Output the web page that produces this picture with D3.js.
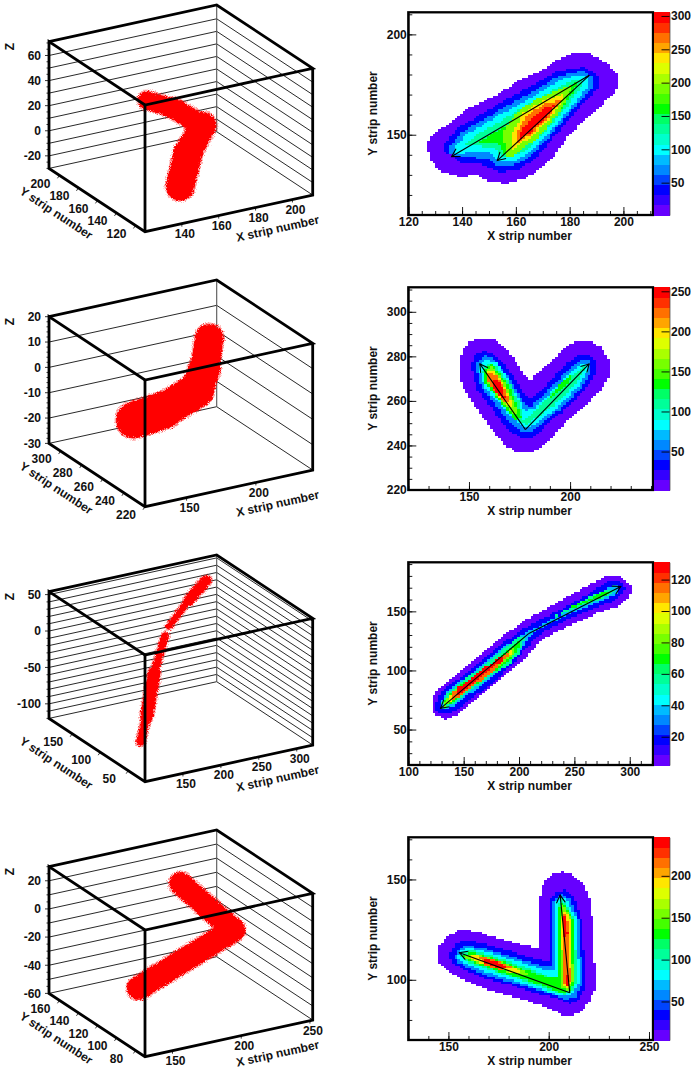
<!DOCTYPE html>
<html>
<head>
<meta charset="utf-8">
<script src="https://cdnjs.cloudflare.com/ajax/libs/d3/7.8.5/d3.min.js"></script>
<style>
body { margin: 0; background: #fff; }
text { font-family: "Liberation Sans", sans-serif; font-weight: bold; font-size: 12px; fill: #111; }
</style>
</head>
<body>
<div id="chart"></div>
<script>
// ranges, one entry per event
var xRanges = [[120, 211], [120, 241], [100, 321], [130, 252]]
var yRanges = [[110, 211], [220, 311], [20, 191.5], [70, 171]]
var zRanges = [[-30, 71], [-30, 20], [-120, 54], [-60, 30]]
var colorRanges = [[1.5, 305.5], [2, 255], [2, 131], [4, 246]]

// tick labels
var xMajor = [20, 50, 50, 50], xMinor = [5, 10, 10, 10]
var yMajor = [50, 20, 50, 50], yMinor = [10, 5, 10, 10]
var zMinor = [5, 2, 10, 5]
var colorTicks = [[50, 100, 150, 200, 250, 300], [50, 100, 150, 200, 250], [20, 40, 60, 80, 100, 120], [50, 100, 150, 200]]
var x3dTicks = [[140, 160, 180, 200], [150, 200], [150, 200, 250, 300], [150, 200, 250]]
var y3dTicks = [[120, 140, 160, 180, 200], [220, 240, 260, 280, 300], [50, 100, 150], [80, 100, 120, 140, 160]]
var z3dTicks = [[-20, 0, 20, 40, 60], [-30, -20, -10, 0, 10, 20], [-100, -50, 0, 50], [-60, -40, -20, 0, 20]]

var palette = ["#6600ff", "#3300ff", "#0000ff", "#0044ff", "#0088ff", "#00bbff", "#00ffff", "#00ffcc", "#00ff99", "#00ff66",
    "#00ff00", "#44ff00", "#77ff00", "#aaff00", "#ddff00", "#ffe600", "#ffa500", "#ff7000", "#ff3000", "#ff0000"]

// reconstructed tracks in the strip plane: [from, to] pairs of x,y
var arrows = [
    [[[187.3, 179.6], [136.1, 139.1]], [[187.3, 179.6], [153.1, 137.1]]],
    [[[177.9, 247.1], [155.4, 276.6]], [[177.9, 247.1], [209.4, 276.6]]],
    [[[208.4, 131], [129.2, 67.9]], [[208.4, 131], [291.9, 171]]],
    [[[210.5, 93.5], [155.5, 113.5]], [[210.5, 93.5], [205.7, 142.2]]]
]

// hit clouds in 3d: x, y, z stations along each track
var clouds = [
    [[[136.1, 139.1, 55], [160, 158, 31.6], [187.3, 179.6, -1.6]], [[187.3, 179.6, -1.6], [168, 158, -7], [153.1, 137.1, -18]]],
    [[[155.4, 276.6, -15.6], [166, 262, -8.9], [177.9, 247.1, 1.5]], [[177.9, 247.1, 1.5], [195, 262, 4], [209.4, 276.6, 10.2]]],
    [[[129.2, 67.9, -96], [150, 85, -75], [180, 112, -36], [208.4, 131, -1]], [[215, 133, 10], [255, 152, 27], [291.9, 171, 35.8]]],
    [[[155.5, 113.5, -36], [210.5, 93.5, 2.4]], [[210.5, 93.5, 2.4], [205.7, 142.2, 14.8]]]
]
var cloudWidths = [
    [[20, 22], [28, 30]],
    [[38, 36], [33, 30]],
    [[10, 14, 9], [8, 12]],
    [[25], [24]]
]

// charge contours: [value, ring of x,y], lowest first
var contours0 = [
    [5, [[127.1,145.5],[129.3,150.5],[134.3,154.7],[138,158.9],[142.9,163.5],[151.6,168.9],[161.5,177.3],[168.9,181.4],[176.4,188.1],[180.7,190.3],[187.5,190.3],[193.7,185.6],[197.7,179.8],[197.7,173.1],[192.5,165.6],[187.5,159.7],[180.1,150.5],[172.7,137.1],[164,128.8],[156.6,125.8],[149.7,127.1],[145.4,130.1],[139.2,129.1],[131.8,132.1],[128.1,138]]],
    [40, [[132.4,143.8],[138,153],[151.6,163.9],[162.8,172.2],[175.1,181.4],[185.1,183.9],[190.6,179.8],[190.6,173.1],[183.8,163.9],[175.1,150.5],[167.7,138.8],[161.5,132.9],[154.1,131.3],[146.6,135.5],[140.4,135.5],[134.3,141]]],
    [70, [[134.9,143],[139.8,151.3],[152.8,161.4],[164,169.7],[175.1,178.9],[184.4,181.9],[188.5,178.9],[188.5,173.6],[182,163.9],[173.3,150.5],[165.8,139.6],[160.3,135.5],[154.1,134.3],[148.5,138.5],[140.4,138.8],[136.1,139.6]]],
    [100, [[136.7,143],[141.1,149.7],[153.5,159.7],[165.2,168.1],[176.4,177.3],[183.8,180.3],[186.9,178.6],[186.9,173.9],[180.7,163.9],[172,150.5],[164.6,140.5],[159,136.8],[153.5,137.1],[149.7,141.3],[146.6,141.8],[141.1,140.8],[137.3,140.5]]],
    [130, [[139.2,143],[144.2,149.2],[154.7,157.2],[165.8,166.4],[177,174.7],[182.6,178.1],[184.4,177.3],[184.4,174.2],[178.9,163.9],[170.8,151.3],[163.4,142.1],[158.4,138.8],[154.7,138.8],[152.2,143.8],[147.9,144.1],[141.1,145.1]]],
    [160, [[146,146.3],[155.3,153.8],[167.1,163.9],[177.6,171.4],[182.5,176],[182,172.6],[177.5,163.9],[170.2,152.2],[162.5,143.8],[157.2,140.1],[155.6,140.1],[153.5,146.3],[149.1,145.8]]],
    [190, [[155.4,152.2],[161,162.2],[169.1,168.9],[181.5,175.6],[176.5,162.2],[168.4,148.8],[158.5,138.8],[156.4,138.8]]],
    [235, [[158.5,150.5],[162.9,161.3],[170.3,167.2],[178.3,170.6],[174.6,161.3],[167.7,151.3],[158.5,142.1]]],
    [265, [[160.1,151.3],[164.1,159.7],[170.9,165.6],[176.5,167.2],[172.8,159.7],[166.6,151.3],[160.4,145.5]]],
    [300, [[161,150.5],[165.4,157.2],[171.6,163.9],[174.6,164.7],[170.9,158],[165.4,151.3],[161.6,148]]]
]
var contours1 = [
    [5, [[145.2,276.3],[146.4,282],[149.7,286.1],[154.6,288],[161.2,288],[167,284.6],[171.9,279.3],[176.9,271.8],[180.2,269.1],[184.3,272.6],[195,281.6],[200.8,286.1],[209.9,287.3],[215.7,283.8],[219.8,277.1],[219.8,271.8],[215.7,265.8],[206.6,256.9],[196.7,249.4],[188.4,241.1],[181.8,237.4],[173.6,237.1],[167.8,240.4],[162,246.4],[155.4,254.6],[148,264.3],[145.5,270.3]]],
    [35, [[151,275.6],[153,280.8],[157.9,282.6],[162.9,280.8],[167.8,276.3],[173.6,268.8],[178.5,262.1],[181,261.3],[188.4,267.3],[198.3,277.1],[205,280.8],[209.9,281.1],[212.9,277.5],[212.9,272.6],[206.6,264.3],[196.7,255.4],[188.4,249.4],[181.8,243.4],[175.2,243.4],[168.6,247.9],[161.2,256.9],[153.8,265.1]]],
    [60, [[153.5,274.8],[154.6,278.6],[158.7,280.4],[162.4,278.6],[167,274.1],[172.8,265.8],[177.7,258.4],[181,257.6],[190.1,265.8],[200,274.8],[205.8,278.6],[209.6,278.6],[210.7,275.6],[210.2,272.6],[205,265.1],[195,256.1],[187.6,250.9],[181,246.4],[176.1,246.1],[170.3,250.1],[162.9,258.4],[156.3,265.8]]],
    [85, [[155.1,274.1],[156.3,277.1],[159.1,278.6],[163.5,277.5],[167.5,272.5],[173,264],[178,255.4],[182.7,256.9],[191.7,265.1],[200.8,273.3],[206.6,277.1],[208.6,276.6],[208.6,273.3],[203.3,265.8],[193.4,256.9],[186,251.6],[179.4,248.2],[176.1,248.6],[170.3,253.1],[163.7,260.6],[157.9,265.6]]],
    [110, [[156.8,273.3],[157.9,276],[160.1,276.6],[163.7,275.6],[170.3,268.1],[175.2,259.1],[176.9,251.6],[180.2,253.1],[190.1,262.8],[200,271.1],[206.6,275.6],[207.4,274.1],[201.6,266.6],[191.7,257.6],[184.3,253.1],[178.5,249.7],[175.2,250.9],[169.5,256.1],[163.7,262.8],[158.7,268.1]]],
    [135, [[157.6,274.1],[161.2,276.6],[169.5,267.3],[176.1,252.4],[172.8,251.6],[164.5,260.6],[157.9,268.1]]],
    [135, [[195,268.1],[203.3,273.3],[196.7,265.8],[190.1,261.3]]],
    [160, [[158.4,274.1],[161.2,275.7],[167.8,268.1],[174.4,254.6],[171.9,253.9],[163.7,262.8],[158.4,269.6]]],
    [200, [[159.1,273.3],[162,274.1],[166.7,268.1],[171.9,257.6],[168.6,258.1],[162.4,264.6],[158.7,270]]],
    [225, [[159.2,272.6],[163.7,271.8],[167.3,266.6],[170.6,259.1],[167,260.1],[161.2,265.8],[158.7,269.6]]],
    [250, [[161.7,270.3],[165.7,268.1],[168.3,261],[164.5,262.8],[161.2,266.6]]]
]
var contours2 = [
    [5, [[121.1,72.4],[124.1,80.8],[133.1,89.3],[149.7,102],[167.8,114.6],[182.8,127.3],[203.9,141.4],[225,152.7],[252.1,166.8],[279.2,180],[291.3,180],[301.8,171],[299.7,162.5],[288.3,154.1],[270.2,148.5],[246.1,138.6],[225,128.7],[216,121.7],[200.9,106.2],[182.8,92.1],[164.8,78],[146.7,63.9],[133.1,58.9],[122.6,63.9]]],
    [18, [[125,72.4],[130.1,82.3],[149.7,96.3],[170.8,111.8],[187.3,124.5],[206.9,137.2],[231,148.5],[258.1,162],[279.2,175.2],[289.8,176.6],[295.8,170.4],[292.8,163.9],[283.7,158.3],[264.2,151.8],[243.1,142.8],[225,134.4],[213,125.9],[197.9,109],[179.8,92.5],[161.7,79.5],[143.7,66],[131.6,63],[125.6,66]]],
    [37, [[128,72],[134.6,82],[152.7,95],[173.8,110.5],[188.9,121.8],[202.4,130.1],[211.4,134.4],[234,145.6],[261.1,158.3],[280.7,171],[288.3,172.4],[290.7,168.7],[286.7,163.9],[264.2,155.5],[240.1,145.6],[222,137.2],[209.9,130.1],[203.9,120.3],[191.9,106.2],[176.8,95.5],[158.7,82.5],[140.7,70],[131.6,67]]],
    [57, [[129.5,72],[137,83],[155,95.5],[175,109],[190,121],[201,129],[206,128],[201,116],[190,104],[175,96],[158,84.5],[141,72],[133,68]]],
    [57, [[231,145.6],[258.1,159.7],[280.7,169.6],[286.7,168.7],[285.2,165.4],[264.2,157.5],[240.1,148.5]]],
    [70, [[131,73],[140,83],[158,94.5],[177,107],[192,118.5],[201,126],[199,118],[187,105],[173,96.5],[156,85],[141,73.5],[132,69]]],
    [70, [[246.1,154.1],[261.1,159.7],[279.2,167.6],[283.7,167.6],[279.2,163.9],[262.7,158.3],[247.6,152.7]]],
    [83, [[133,74],[143,84.5],[161,96],[178,106.5],[196,120],[197,116],[185,105.5],[171,97.5],[155,86.5],[141,75.5],[133,70]]],
    [102, [[137,78],[148,87],[163,97.5],[180,108],[193,117],[194,114],[181,104],[170,97],[153,87],[142,77],[136,72]]],
    [115, [[139,81],[163,97],[189,115],[192,113],[171,95.5],[147,79],[140,75]]],
    [128, [[143,84],[166,100.5],[184,112],[186,109.5],[168,96],[146,79]]]
]
var contours3 = [
    [10, [[144.2,111.8],[145.5,116.8],[149.7,121.8],[155.5,124.8],[163.8,124.3],[173.7,120.9],[185.3,117.6],[195.3,115.9],[195.3,136.7],[196.1,146.7],[200.2,151.7],[206.1,153.8],[211.9,152.5],[217.7,147.5],[220.5,140],[222.6,121.8],[223.1,95.2],[220.1,89.4],[215.2,83.6],[208.5,81.9],[203.6,84.4],[195.3,87.7],[182,91.9],[167.1,96],[157.1,100.2],[148.8,105.1],[145.2,108.5]]],
    [35, [[150.2,111.8],[153,117.6],[158,119.8],[167.1,118.4],[178.7,115.1],[188.6,111.8],[198.6,109.3],[200.4,110.1],[200.3,130.1],[201,140],[204.4,144.2],[208.5,144.7],[213.5,140],[216.3,130],[217.5,113.5],[218.5,100],[218.3,96.8],[215.2,90.2],[210.2,88.2],[203.6,91],[193.6,93.5],[180.3,97.7],[167.1,101],[157.1,105.1],[152.2,108.5]]],
    [58, [[153,111.8],[155.1,115.4],[158.8,117.1],[167.1,115.9],[178.7,112.6],[188.6,109.3],[198.6,106.5],[201.5,107.6],[201.6,130],[202.5,139],[206.4,143],[211,140],[215,130],[216,113.5],[216.8,98.5],[213.5,91.9],[208.5,90.2],[201.9,93.2],[192,95.5],[180.3,99],[167.1,102.8],[158,106.5],[154.1,109.3]]],
    [82, [[154.1,111.5],[156.3,114.8],[160.4,115.9],[168.7,114.3],[178.7,111],[190.3,107.6],[199.4,104.3],[203,105],[202.7,130],[203.6,139],[206.4,141.4],[209.5,139],[214,130],[214.6,113.5],[215.2,98.5],[212.2,93.5],[207.7,91.9],[201.1,93.5],[191.1,97],[180.3,100.5],[167.9,104.2],[158.8,108],[155.5,109.8]]],
    [105, [[155.5,111.8],[158,114.1],[162.1,114.8],[170.4,112.6],[180.3,109.3],[190.3,105.5],[200.2,101.8],[204.7,102],[203.9,130],[204.4,138],[206.5,140.5],[208.5,138],[212.9,130],[213.4,113.5],[213.8,98.5],[211.5,93.5],[207.7,92.9],[200.2,95],[190.3,98.5],[180.3,102],[168.7,105.5],[159.6,108.8]]],
    [130, [[157.1,112.1],[161.3,113.8],[170.4,111.5],[180.3,108.1],[188.6,104.8],[198.6,101.5],[205.2,101],[204.9,130],[205.3,137],[206.5,139],[208,137],[212.2,130],[212.6,113.5],[212.9,98.5],[210.5,94.5],[206.9,93.5],[198.6,96.5],[188.6,100],[180.3,102.5],[168.7,106.5],[160.4,109.5]]],
    [155, [[158.8,112.8],[162.9,113.3],[172.1,110.5],[180.3,107.5],[188,104.5],[190,102],[180.3,103.8],[172,106.3],[162,109.5],[158.8,110.8]]],
    [155, [[205.7,130],[206.2,136.5],[206.9,137.5],[207.8,136],[211.5,130],[211.9,113.5],[212.2,99],[209.4,95.2],[206.2,96.5],[206.2,100]]],
    [190, [[161,112],[164.6,112.5],[173.7,109.5],[182,106.5],[186,104],[178.7,104.3],[170.4,107],[162.9,109.5]]],
    [190, [[206.4,130],[206.9,135.5],[207.6,135],[210.9,130],[211,113.5],[211.5,100],[209.5,96],[207,97.5],[206.6,113.5]]],
    [215, [[164.6,111.8],[167.9,111.5],[175.4,109],[182,106],[175.4,104.9],[168.7,107.2]]],
    [215, [[207,132.5],[207.6,133.5],[210.2,128],[210.2,113.5],[211,100.2],[209.9,96.5],[207.6,98.5],[207,113.5]]],
    [240, [[167,110.8],[172.1,109.6],[178.7,107],[180,105.8],[175.4,105.9],[168.7,108]]],
    [240, [[207.4,132.6],[208.8,130.1],[209.4,122.6],[207.6,122]]],
    [240, [[208,102],[210.2,102],[210.2,96.5],[208.2,96.5]]]
]
var contours = [contours0, contours1, contours2, contours3]

var width = 691, height = 1070, rowHeight = 275
var nBins = 90

var svg = d3.select("#chart").append("svg").attr("width", width).attr("height", height)

var filter = svg.append("defs").append("filter")
    .attr("id", "speckle")
    .attr("filterUnits", "userSpaceOnUse")
    .attr("x", 0).attr("y", 0).attr("width", width).attr("height", height)
    .attr("color-interpolation-filters", "sRGB")
filter.append("feTurbulence")
    .attr("type", "fractalNoise").attr("baseFrequency", 1.4).attr("numOctaves", 1).attr("seed", 4).attr("result", "noise")
filter.append("feDisplacementMap")
    .attr("in", "SourceGraphic").attr("in2", "noise").attr("scale", 6)
    .attr("xChannelSelector", "R").attr("yChannelSelector", "G")

function multiples(step, range) {
    return d3.range(Math.ceil(range[0] / step) * step, range[1] + 1e-6, step)
}

function draw3d(i) {
    var g = svg.append("g").attr("transform", "translate(0," + i * rowHeight + ")")

    var fx = d3.scaleLinear().domain(xRanges[i]).range([0, 1])
    var fy = d3.scaleLinear().domain(yRanges[i]).range([0, 1])
    var fz = d3.scaleLinear().domain(zRanges[i]).range([0, 1])

    // box corner at low x, low y, low z and the three edges leaving it
    function project(x, y, z) {
        return [145 + fx(x) * 167.7 - fy(y) * 96, 231.7 - fx(x) * 36.7 - fy(y) * 63.3 - fz(z) * 126.7]
    }
    var x0 = xRanges[i][0], x1 = xRanges[i][1], y0 = yRanges[i][0], y1 = yRanges[i][1], z0 = zRanges[i][0], z1 = zRanges[i][1]
    var line = d3.line()

    // back walls
    var gridZ = multiples(10, zRanges[i]).filter(d => d < z1 - 1)
    g.append("g").selectAll("path").data(gridZ).join("path")
        .attr("d", z => line([project(x0, y1, z), project(x1, y1, z), project(x1, y0, z)]))
        .attr("fill", "none").attr("stroke", "#111").attr("stroke-width", 0.9)
    g.append("path")
        .attr("d", line([project(x1, y1, z0), project(x1, y1, z1)]))
        .attr("stroke", "#555").attr("stroke-width", 1.1)

    // hit clouds, a thin pink rim first and the dense body over it
    var cloudG = g.append("g").attr("filter", "url(#speckle)")
    var drawCloud = (extra, opacity) => clouds[i].forEach((track, t) => {
        d3.pairs(track).forEach((pair, s) => {
            cloudG.append("path")
                .attr("d", line(pair.map(d => project(d[0], d[1], d[2]))))
                .attr("fill", "none").attr("stroke", "#ff0000").attr("stroke-opacity", opacity)
                .attr("stroke-width", cloudWidths[i][t][s] + extra).attr("stroke-linecap", "round")
        })
    })
    drawCloud(1.5, 0.35)
    drawCloud(-1.5, 1)

    // box
    var edges = [
        [[x0, y1, z1], [x1, y1, z1], [x1, y0, z1], [x0, y0, z1], [x0, y1, z1], [x0, y1, z0], [x0, y0, z0], [x1, y0, z0], [x1, y0, z1]],
        [[x0, y0, z1], [x0, y0, z0]]
    ]
    g.append("g").selectAll("path").data(edges).join("path")
        .attr("d", e => line(e.map(d => project(d[0], d[1], d[2]))))
        .attr("fill", "none").attr("stroke", "#000").attr("stroke-width", 2.8).attr("stroke-linejoin", "miter")

    // z axis
    g.append("g").selectAll("line").data(multiples(zMinor[i], zRanges[i])).join("line")
        .attr("x1", d => project(x0, y1, d)[0])
        .attr("x2", d => project(x0, y1, d)[0] - (z3dTicks[i].includes(d) ? 4 : 2.5))
        .attr("y1", d => project(x0, y1, d)[1])
        .attr("y2", d => project(x0, y1, d)[1])
        .attr("stroke", "#000").attr("stroke-width", 0.8)
    g.append("g").selectAll("text").data(z3dTicks[i]).join("text")
        .attr("x", 41).attr("y", d => project(x0, y1, d)[1] + 4.3)
        .attr("text-anchor", "end").text(d => String(d))

    // y axis
    g.append("g").selectAll("line").data(y3dTicks[i]).join("line")
        .attr("x1", d => project(x0, d, z0)[0]).attr("y1", d => project(x0, d, z0)[1])
        .attr("x2", d => project(x0, d, z0)[0] - 2).attr("y2", d => project(x0, d, z0)[1] + 3)
        .attr("stroke", "#000").attr("stroke-width", 0.8)
    g.append("g").selectAll("text").data(y3dTicks[i]).join("text")
        .attr("x", d => project(x0, d, z0)[0] - 19).attr("y", d => project(x0, d, z0)[1] + 12.3)
        .attr("text-anchor", "middle").text(d => d)

    // x axis
    g.append("g").selectAll("line").data(x3dTicks[i]).join("line")
        .attr("x1", d => project(d, y0, z0)[0]).attr("y1", d => project(d, y0, z0)[1])
        .attr("x2", d => project(d, y0, z0)[0]).attr("y2", d => project(d, y0, z0)[1] + 3)
        .attr("stroke", "#000").attr("stroke-width", 0.8)
    g.append("g").selectAll("text").data(x3dTicks[i]).join("text")
        .attr("x", d => project(d, y0, z0)[0] + 3).attr("y", d => project(d, y0, z0)[1] + 14.3)
        .attr("text-anchor", "middle").text(d => d)

    g.append("text").attr("text-anchor", "middle")
        .attr("transform", "translate(278.5,232.5) rotate(-12.5)").text("X strip number")
    g.append("text").attr("text-anchor", "middle")
        .attr("transform", "translate(54,216.5) rotate(33.4)").text("Y strip number")
    g.append("text").attr("text-anchor", "middle")
        .attr("transform", "translate(14,46.5) rotate(-90)").text("Z")
}

function drawHeat(i) {
    var left = 408.3, right = 653, top = 12.3, bottom = 215
    var g = svg.append("g").attr("transform", "translate(0," + i * rowHeight + ")")

    var x = d3.scaleLinear().domain(xRanges[i]).range([left, right])
    var y = d3.scaleLinear().domain(yRanges[i]).range([bottom, top])
    var color = d3.scaleQuantize().domain(colorRanges[i]).range(palette)

    // fill the histogram bins from the contours
    var dx = (xRanges[i][1] - xRanges[i][0]) / nBins
    var dy = (yRanges[i][1] - yRanges[i][0]) / nBins
    var cells = []
    d3.range(nBins).forEach(a => d3.range(nBins).forEach(b => {
        var cx = xRanges[i][0] + (a + 0.5) * dx
        var cy = yRanges[i][0] + (b + 0.5) * dy
        var value = null
        contours[i].forEach(c => {
            if (d3.polygonContains(c[1], [cx, cy])) value = c[0]
        })
        if (value !== null) cells.push({ a: a, b: b, value: value })
    }))
    g.append("g").attr("shape-rendering", "crispEdges")
        .selectAll("rect").data(cells).join("rect")
        .attr("x", d => x(xRanges[i][0] + d.a * dx))
        .attr("y", d => y(yRanges[i][0] + (d.b + 1) * dy))
        .attr("width", x(xRanges[i][0] + dx) - left + 0.3)
        .attr("height", bottom - y(yRanges[i][0] + dy) + 0.3)
        .attr("fill", d => color(d.value))

    // arrows
    var arrowG = g.append("g").attr("fill", "none").attr("stroke", "#000").attr("stroke-width", 1.1)
    arrows[i].forEach(a => {
        var p0 = [x(a[0][0]), y(a[0][1])], p1 = [x(a[1][0]), y(a[1][1])]
        var ang = Math.atan2(p1[1] - p0[1], p1[0] - p0[0])
        var hw = 9, spread = 0.52
        arrowG.append("path").attr("d", d3.line()([p0, p1]))
        arrowG.append("path").attr("d", d3.line()([
            [p1[0] - hw * Math.cos(ang - spread), p1[1] - hw * Math.sin(ang - spread)], p1,
            [p1[0] - hw * Math.cos(ang + spread), p1[1] - hw * Math.sin(ang + spread)]]))
    })

    // minor then major ticks
    g.append("g").attr("transform", "translate(0," + bottom + ")")
        .call(d3.axisBottom(x).tickValues(multiples(xMinor[i], xRanges[i])).tickSizeInner(-4).tickSizeOuter(0).tickFormat(""))
    g.append("g").attr("transform", "translate(" + left + ",0)")
        .call(d3.axisLeft(y).tickValues(multiples(yMinor[i], yRanges[i])).tickSizeInner(-4).tickSizeOuter(0).tickFormat(""))
    g.append("g").attr("transform", "translate(0," + bottom + ")")
        .call(d3.axisBottom(x).tickValues(multiples(xMajor[i], xRanges[i])).tickSizeInner(-8).tickSizeOuter(0).tickPadding(2.5))
    g.append("g").attr("transform", "translate(" + left + ",0)")
        .call(d3.axisLeft(y).tickValues(multiples(yMajor[i], yRanges[i])).tickSizeInner(-8).tickSizeOuter(0).tickPadding(1.5))

    g.append("rect")
        .attr("x", left).attr("y", top).attr("width", right - left).attr("height", bottom - top)
        .attr("fill", "none").attr("stroke", "#000").attr("stroke-width", 2.3)

    // colour bar
    var barLeft = 654, barRight = 669.5
    var cScale = d3.scaleLinear().domain(colorRanges[i]).range([bottom, top])
    var edgesC = [colorRanges[i][0]].concat(color.thresholds(), [colorRanges[i][1]])
    g.append("g").attr("shape-rendering", "crispEdges")
        .selectAll("rect").data(d3.pairs(edgesC)).join("rect")
        .attr("x", barLeft).attr("width", barRight - barLeft)
        .attr("y", d => cScale(d[1])).attr("height", d => cScale(d[0]) - cScale(d[1]) + 0.5)
        .attr("fill", d => color((d[0] + d[1]) / 2))
    var cAxis = g.append("g").attr("transform", "translate(" + barRight + ",0)")
        .call(d3.axisRight(cScale).tickValues(colorTicks[i]).tickSizeInner(-8).tickSizeOuter(0).tickPadding(1.5))
    cAxis.select(".domain").attr("stroke", "#444").attr("stroke-width", 0.7)

    g.selectAll(".tick text").attr("font-size", 12).attr("font-family", null)
    g.selectAll(".tick line").attr("stroke-width", 0.9)

    g.append("text").attr("x", 529.5).attr("y", 240.3).attr("text-anchor", "middle").text("X strip number")
    g.append("text").attr("text-anchor", "middle")
        .attr("transform", "translate(376.5,113.5) rotate(-90)").text("Y strip number")
}

d3.range(4).forEach(i => {
    draw3d(i)
    drawHeat(i)
})
</script>
</body>
</html>
